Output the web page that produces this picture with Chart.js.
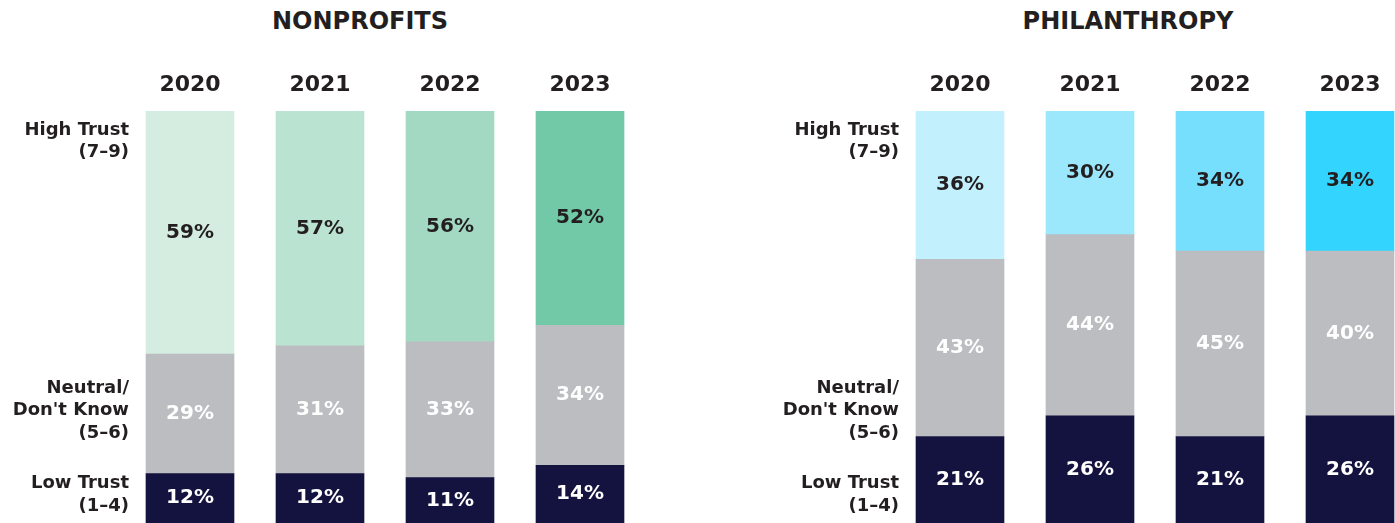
<!DOCTYPE html>
<html>
<head>
<meta charset="utf-8">
<script src="https://cdn.jsdelivr.net/npm/chart.js@4"></script>
<style>
  html, body { margin: 0; padding: 0; background: #fff; overflow: hidden; }
  #wrap { position: relative; width: 1395px; height: 523px; overflow: hidden; }
  .title {
    position: absolute; top: 9px; width: 400px; text-align: center;
    font-family: "DejaVu Sans", sans-serif; font-weight: bold; font-size: 24px;
    line-height: 24px; color: #231f20;
  }
  canvas { position: absolute; top: 0; }
</style>
</head>
<body>
<div id="wrap">
  <div class="title" style="left:160px">NONPROFITS</div>
  <div class="title" style="left:928px">PHILANTHROPY</div>
  <canvas id="nonprofitChart" width="645" height="523" style="left:0"></canvas>
  <canvas id="philanthropyChart" width="645" height="523" style="left:770px"></canvas>
</div>
<script>
const years = ['2020', '2021', '2022', '2023'];

const nonprofitHigh = [59, 57, 56, 52];
const nonprofitNeutral = [29, 31, 33, 34];
const nonprofitLow = [12, 12, 11, 14];

const philanthropyHigh = [36, 30, 34, 34];
const philanthropyNeutral = [43, 44, 45, 40];
const philanthropyLow = [21, 26, 21, 26];

// side labels and where they sit on the 0-100 scale
const trustLabels = [['Low Trust', '(1–4)'], ['Neutral/', "Don't Know", '(5–6)'], ['High Trust', '(7–9)']];
const trustLabelValues = [6.8, 27.3, 92.6];

const nonprofitColors = ['#d5ede1', '#bae3d1', '#a3d9c2', '#72c9a7'];
const philanthropyColors = ['#c2f0fd', '#9be8fd', '#76dffd', '#33d4fe'];
const neutralColor = '#bcbdc1';
const lowColor = '#14133f';
const textDark = '#231f20';
const fontFamily = '"DejaVu Sans", sans-serif';

// percent labels in the middle of each segment + the trust labels left of the bars
const segmentLabels = {
    id: 'segmentLabels',
    afterDatasetsDraw(chart) {
        const ctx = chart.ctx;
        ctx.save();
        ctx.font = 'bold 20px ' + fontFamily;
        ctx.textAlign = 'center';
        ctx.textBaseline = 'middle';
        chart.data.datasets.forEach((ds, i) => {
            const meta = chart.getDatasetMeta(i);
            ctx.fillStyle = ds.labelColor;
            meta.data.forEach((bar, j) => {
                const p = bar.getProps(['x', 'y', 'base'], true);
                ctx.fillText(ds.data[j] + '%', p.x, (p.y + p.base) / 2);
            });
        });

        const yScale = chart.scales.y;
        ctx.font = 'bold 18px ' + fontFamily;
        ctx.textAlign = 'right';
        ctx.fillStyle = textDark;
        const lh = 22.5;
        trustLabels.forEach((lines, i) => {
            const yc = yScale.getPixelForValue(trustLabelValues[i]);
            const y0 = yc - (lines.length - 1) * lh / 2;
            lines.forEach((line, k) => ctx.fillText(line, chart.chartArea.left + 4, y0 + k * lh));
        });
        ctx.restore();
    }
};

function makeChart(id, low, neutral, high, highColors) {
    return new Chart(id, {
        type: 'bar',
        data: {
            labels: years,
            datasets: [
                { data: low, backgroundColor: lowColor, labelColor: '#ffffff' },
                { data: neutral, backgroundColor: neutralColor, labelColor: '#ffffff' },
                { data: high, backgroundColor: highColors, labelColor: textDark }
            ]
        },
        options: {
            responsive: false,
            animation: false,
            devicePixelRatio: 1,
            layout: { padding: 0, autoPadding: false },
            datasets: { bar: { barThickness: 88, borderWidth: 0 } },
            plugins: {
                legend: { display: false },
                tooltip: { enabled: false }
            },
            scales: {
                x: {
                    position: 'top',
                    stacked: true,
                    grid: { display: false, drawTicks: false },
                    border: { display: false },
                    ticks: {
                        color: textDark,
                        padding: 13,
                        font: { family: fontFamily, size: 22, weight: 'bold' }
                    },
                    afterFit: scale => { scale.height = 111; }
                },
                y: {
                    stacked: true,
                    min: 0,
                    max: 100,
                    grid: { display: false, drawTicks: false },
                    border: { display: false },
                    ticks: { display: false },
                    afterFit: scale => { scale.width = 125; }
                }
            }
        },
        plugins: [segmentLabels]
    });
}

makeChart('nonprofitChart', nonprofitLow, nonprofitNeutral, nonprofitHigh, nonprofitColors);
makeChart('philanthropyChart', philanthropyLow, philanthropyNeutral, philanthropyHigh, philanthropyColors);
</script>
</body>
</html>
